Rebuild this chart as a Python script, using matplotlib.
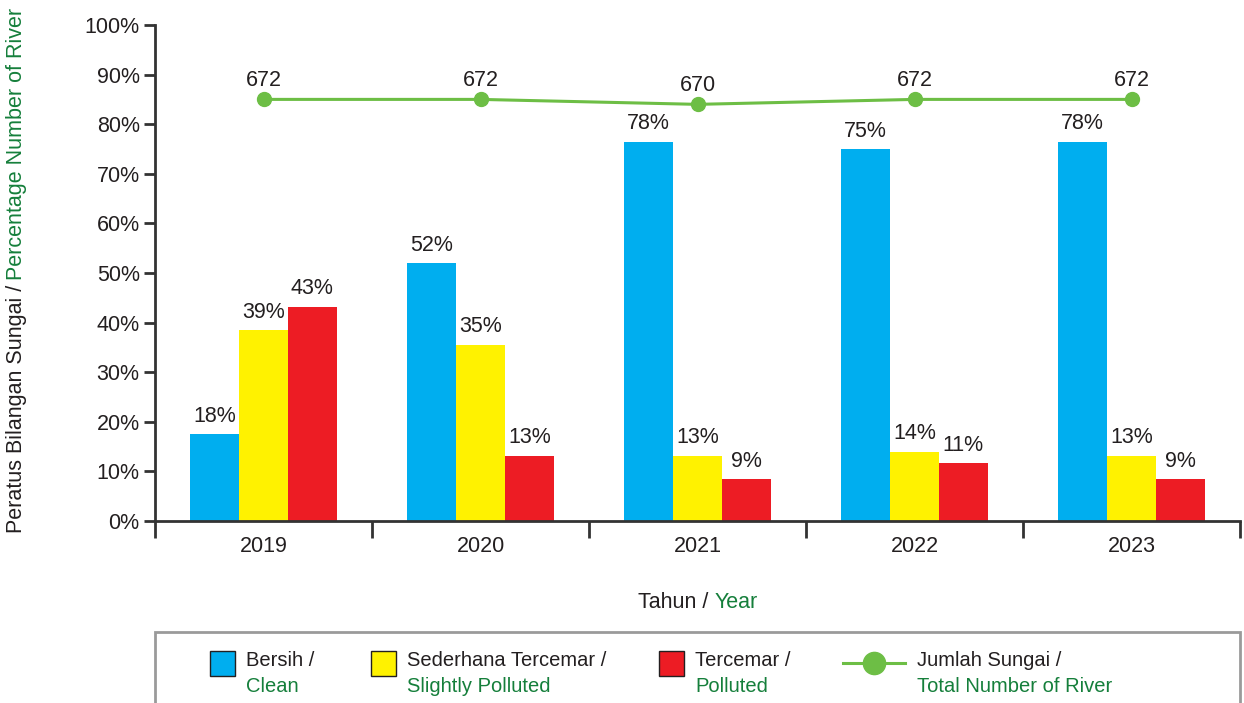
import matplotlib.pyplot as plt
from matplotlib.patches import Rectangle
from matplotlib.lines import Line2D
import numpy as np

plt.rcParams['font.family'] = ['Liberation Sans', 'DejaVu Sans']

# Data
years = ['2019', '2020', '2021', '2022', '2023']
bersih = [17.5, 52.0, 76.5, 75.0, 76.5]
sederhana = [38.5, 35.5, 13.2, 14.0, 13.2]
tercemar = [43.2, 13.2, 8.4, 11.6, 8.4]
bersih_lbl = ['18%', '52%', '78%', '75%', '78%']
sederhana_lbl = ['39%', '35%', '13%', '14%', '13%']
tercemar_lbl = ['43%', '13%', '9%', '11%', '9%']
jumlah_sungai = [672, 672, 670, 672, 672]

BLUE = '#00AEEF'
YELLOW = '#FFF200'
RED = '#ED1C24'
LINE_GREEN = '#6DBE45'
TXT_GREEN = '#157F3B'
DARK = '#231F20'
FS = 15.5
LFS = 14.5

W, H = 1244, 703
fig = plt.figure(figsize=(W / 100, H / 100), dpi=100)
ax = fig.add_axes([155 / W, 1 - 521 / H, (1240 - 155) / W, (521 - 25) / H])

x = np.arange(len(years))
bw = 0.225
series = [(bersih, bersih_lbl, BLUE, -bw), (sederhana, sederhana_lbl, YELLOW, 0), (tercemar, tercemar_lbl, RED, bw)]
for vals, lbls, col, off in series:
    ax.bar(x + off, vals, width=bw, color=col, zorder=2)
    for xi, v, l in zip(x, vals, lbls):
        ax.text(xi + off, v + 1.5, l, ha='center', va='bottom', fontsize=FS, color=DARK)

ax.set_xlim(-0.5, 4.5)
ax.set_ylim(0, 100)
ax.set_yticks(np.arange(0, 101, 10))
ax.set_yticklabels([f'{t}%' for t in range(0, 101, 10)], fontsize=FS, color=DARK)
ax.set_xticks(x)
ax.set_xticklabels(years, fontsize=FS, color=DARK)
ax.tick_params(axis='x', length=0, pad=11)
ax.tick_params(axis='y', length=8, width=2, color='#333333', pad=3)
# group separator ticks
ax.set_xticks(np.arange(-0.5, 5, 1), minor=True)
ax.tick_params(axis='x', which='minor', length=12, width=2, color='#333333', direction='out')
for s in ['top', 'right']:
    ax.spines[s].set_visible(False)
ax.spines['left'].set_linewidth(2)
ax.spines['bottom'].set_linewidth(2)
ax.spines['left'].set_color('#333333')
ax.spines['bottom'].set_color('#333333')

# line on twin axis (scaled so 672 sits at ~85%)
ax2 = ax.twinx()
ax2.set_ylim(502, 702)
ax2.axis('off')
ax2.plot(x, jumlah_sungai, color=LINE_GREEN, lw=2.2, marker='o', markersize=10, zorder=3)
for xi, v in zip(x, jumlah_sungai):
    ax2.text(xi, v + 3.2, str(v), ha='center', va='bottom', fontsize=FS, color=DARK)

fig.canvas.draw()
r = fig.canvas.get_renderer()

# y label in two colours
t1 = fig.text(17 / W, 1 - 533 / H, 'Peratus Bilangan Sungai / ', rotation=90, ha='center', va='bottom',
              fontsize=FS, color=DARK)
bb = t1.get_window_extent(r)
fig.text(17 / W, bb.y1 / H - 0.002, 'Percentage Number of River', rotation=90, ha='center', va='bottom',
         fontsize=FS, color=TXT_GREEN)

# x label in two colours
t2 = fig.text(0, 1 - 603 / H, 'Tahun / ', ha='left', va='center', fontsize=FS, color=DARK)
t3 = fig.text(0, 1 - 603 / H, 'Year', ha='left', va='center', fontsize=FS, color=TXT_GREEN)
w2 = t2.get_window_extent(r).width
w3 = t3.get_window_extent(r).width
start = 698 - (w2 + w3) / 2
t2.set_x(start / W)
t3.set_x((start + w2) / W)

# legend box
fig.add_artist(Rectangle((155 / W, -0.05), (1240 - 155) / W, 0.05 + 1 - 632 / H, transform=fig.transFigure,
                         fill=False, edgecolor='#9A9A9A', lw=2))
items = [(210, BLUE, 'Bersih /', 'Clean'), (371, YELLOW, 'Sederhana Tercemar /', 'Slightly Polluted'),
         (659, RED, 'Tercemar /', 'Polluted')]
for px, col, l1, l2 in items:
    fig.add_artist(Rectangle((px / W, 1 - 676 / H), 25 / W, 25 / H, transform=fig.transFigure,
                             facecolor=col, edgecolor=DARK, lw=1))
    fig.text((px + 36) / W, 1 - 661 / H, l1, ha='left', va='center', fontsize=LFS, color=DARK)
    fig.text((px + 36) / W, 1 - 686 / H, l2, ha='left', va='center', fontsize=LFS, color=TXT_GREEN)
fig.add_artist(Line2D([843 / W, 905 / W], [1 - 663 / H, 1 - 663 / H], transform=fig.transFigure,
                      color=LINE_GREEN, lw=2.2))
fig.add_artist(Line2D([874 / W], [1 - 663 / H], transform=fig.transFigure, color=LINE_GREEN,
                      marker='o', markersize=16))
fig.text(917 / W, 1 - 661 / H, 'Jumlah Sungai /', ha='left', va='center', fontsize=LFS, color=DARK)
fig.text(917 / W, 1 - 686 / H, 'Total Number of River', ha='left', va='center', fontsize=LFS, color=TXT_GREEN)

fig.savefig('out.png', dpi=100)
